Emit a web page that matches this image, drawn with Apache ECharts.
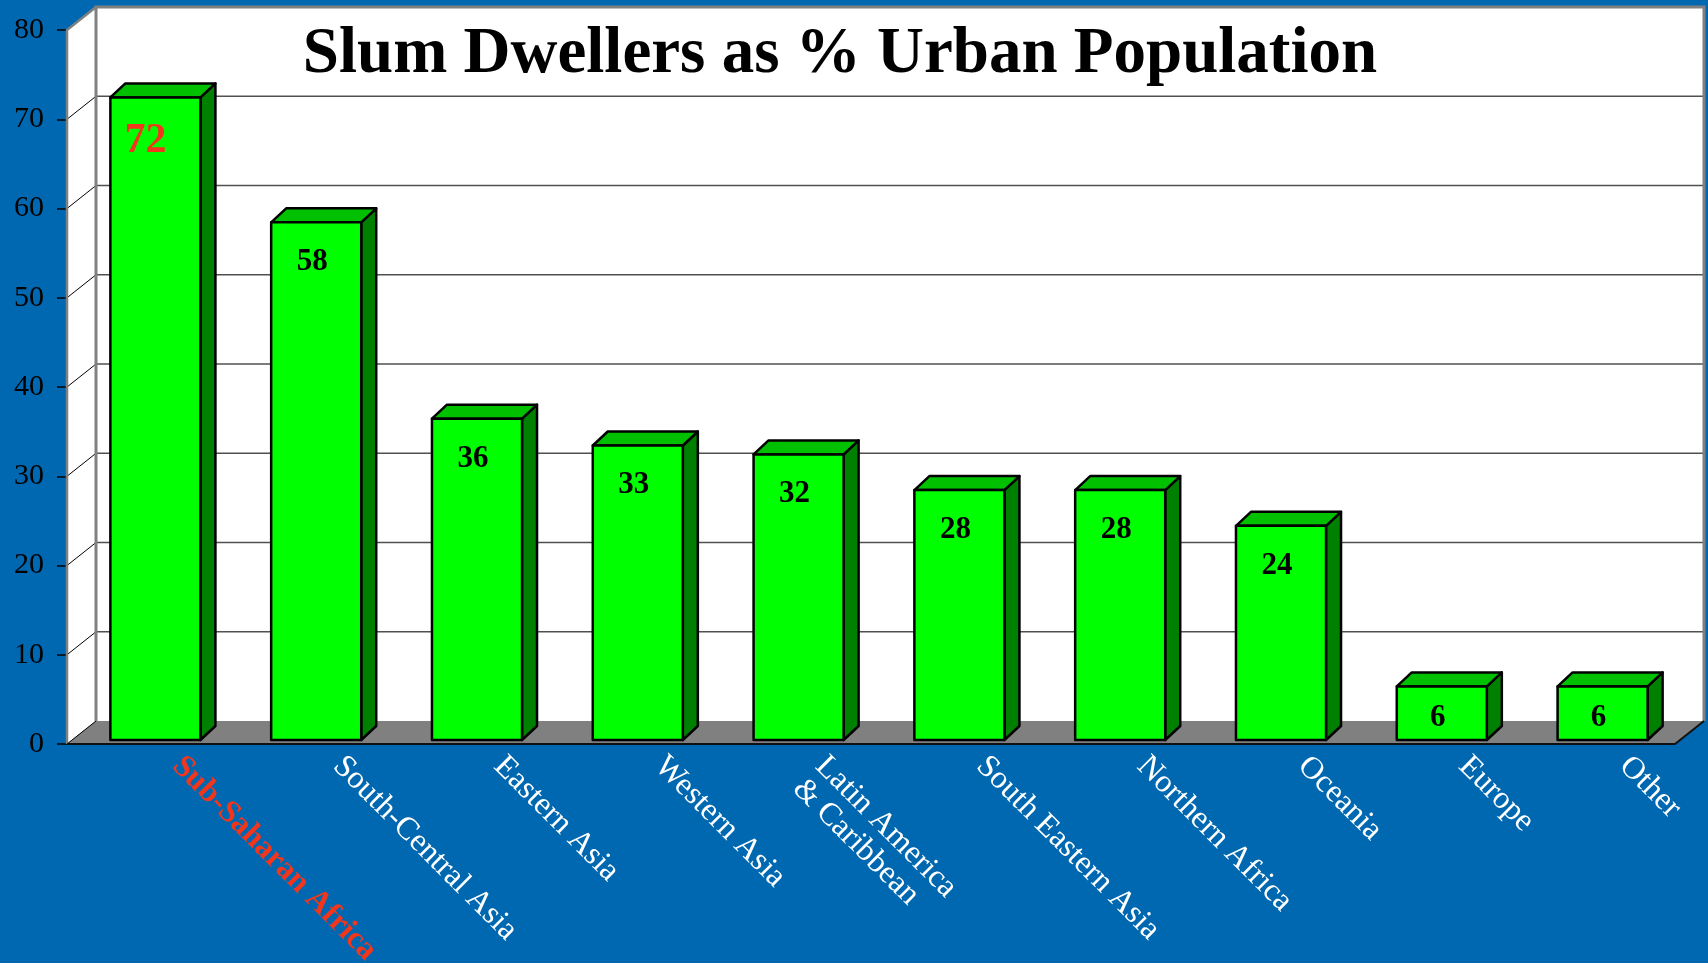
<!DOCTYPE html>
<html><head><meta charset="utf-8">
<script src="https://cdn.jsdelivr.net/npm/echarts@6/dist/echarts.min.js"></script>
<style>html,body{margin:0;padding:0;background:#0068b1;overflow:hidden}#c{width:1708px;height:963px}</style>
</head><body><div id="c"></div>
<script>
// ---- data ----
const categories = ['Sub-Saharan Africa', 'South-Central Asia', 'Eastern Asia', 'Western Asia',
  'Latin America\n& Caribbean', 'South Eastern Asia', 'Northern Africa', 'Oceania', 'Europe', 'Other'];
const values = [72, 58, 36, 33, 32, 28, 28, 24, 6, 6];
const yTicks = [0, 10, 20, 30, 40, 50, 60, 70, 80];
const titleText = 'Slum Dwellers as % Urban Population';

// ---- style constants (pixels) ----
const FDX = 29, FDY = -23;      // floor / wall depth
const BOX = 8, BOY = -4;        // bar front plane offset
const BDX = 15, BDY = -14;      // bar depth
const SERIF = "'Liberation Serif', 'Times New Roman', serif";
const RED = '#f2361c';

function renderFrame(params, api) {
  const cs = params.coordSys;
  const gx = cs.x, gy = cs.y, gw = cs.width, gh = cs.height;
  const yb = gy + gh;
  const ch = [];
  ch.push({type: 'polygon', shape: {points: [[gx, gy], [gx + FDX, gy + FDY], [gx + FDX, yb + FDY], [gx, yb]]}, style: {fill: '#fff'}});
  ch.push({type: 'rect', shape: {x: gx + FDX, y: gy + FDY, width: gw, height: gh}, style: {fill: '#fff'}});
  ch.push({type: 'polygon', shape: {points: [[gx, yb], [gx + FDX, yb + FDY], [gx + gw + FDX, yb + FDY], [gx + gw, yb]]}, style: {fill: '#808080'}});
  yTicks.forEach(v => {
    const y = api.coord([0, v])[1];
    if (v !== 0 && v !== yTicks[yTicks.length - 1]) {
      ch.push({type: 'line', shape: {x1: gx + FDX, y1: y + FDY, x2: gx + gw + FDX, y2: y + FDY}, style: {stroke: '#505050', lineWidth: 1.3}});
    }
    if (v !== yTicks[yTicks.length - 1]) {
      ch.push({type: 'line', shape: {x1: gx, y1: y, x2: gx + FDX, y2: y + FDY}, style: {stroke: '#000', lineWidth: 1}});
    }
  });
  const g = {stroke: '#808080', lineWidth: 3, fill: null};
  ch.push({type: 'polyline', shape: {points: [[gx + FDX, yb + FDY], [gx + FDX, gy + FDY], [gx + gw + FDX, gy + FDY], [gx + gw + FDX, yb + FDY]]}, style: g});
  ch.push({type: 'polyline', shape: {points: [[gx + FDX, gy + FDY], [gx, gy], [gx, yb]]}, style: {stroke: '#808080', lineWidth: 2.5, fill: null}});
  ch.push({type: 'polyline', shape: {points: [[gx, yb], [gx + gw, yb], [gx + gw + FDX, yb + FDY]]}, style: {stroke: '#111', lineWidth: 2, fill: null}});
  return {type: 'group', children: ch};
}

function renderBar(params, api) {
  const idx = api.value(0), v = api.value(1);
  const top = api.coord([idx, v]), base = api.coord([idx, 0]);
  const w = api.size([1, 0])[0] * 0.56;
  const xl = top[0] + BOX - w / 2, xr = xl + w;
  const yt = top[1] + BOY, yb = base[1] + BOY;
  const st = {stroke: '#000', lineWidth: 2.5, lineJoin: 'round'};
  const first = params.dataIndex === 0;
  const h = yb - yt;
  return {
    type: 'group',
    children: [
      {type: 'polygon', shape: {points: [[xr, yt], [xr + BDX, yt + BDY], [xr + BDX, yb + BDY], [xr, yb]]}, style: Object.assign({fill: '#008000'}, st)},
      {type: 'polygon', shape: {points: [[xl, yt], [xl + BDX, yt + BDY], [xr + BDX, yt + BDY], [xr, yt]]}, style: Object.assign({fill: '#00c000'}, st)},
      {type: 'rect', shape: {x: xl, y: yt, width: w, height: h}, style: Object.assign({fill: '#00ff00'}, st)},
      {type: 'text', style: {
        x: (xl + xr) / 2 + (first ? -10 : -4), y: yt + (first ? 44 : Math.min(40, h * 0.58)),
        text: String(v), align: 'center', verticalAlign: 'middle',
        fill: first ? RED : '#000', font: 'bold ' + (first ? 42 : 31) + 'px ' + SERIF
      }}
    ]
  };
}

const chart = echarts.init(document.getElementById('c'), null, {renderer: 'canvas'});
chart.setOption({
  backgroundColor: '#0068b1',
  animation: false,
  title: {
    text: titleText, left: 835, top: 18, textAlign: 'center',
    textStyle: {fontFamily: SERIF, fontSize: 65, fontWeight: 'bold', color: '#000'}
  },
  grid: {left: 67, right: 33, top: 30, bottom: 219, containLabel: false, outerBoundsMode: 'none'},
  xAxis: {
    type: 'category', data: categories, boundaryGap: true,
    axisLine: {show: false}, axisTick: {show: false}, splitLine: {show: false},
    axisLabel: {
      interval: 0, rotate: -45, color: '#fff', fontFamily: SERIF, fontSize: 32,
      align: 'left', verticalAlign: 'top', padding: [0, 0, 0, 58], margin: -35,
      formatter: (v, i) => i === 0 ? '{hl|' + v + '}' : v,
      rich: {hl: {color: RED, fontWeight: 'bold', fontFamily: SERIF, fontSize: 32}}
    }
  },
  yAxis: {
    type: 'value', min: 0, max: 80, interval: 10,
    axisLine: {show: false},
    axisTick: {show: true, length: 10, lineStyle: {color: '#000', width: 1.5}},
    splitLine: {show: false},
    axisLabel: {color: '#000', fontFamily: SERIF, fontSize: 30, margin: 23}
  },
  series: [
    {type: 'custom', name: 'frame', z: 1, silent: true, clip: false, renderItem: renderFrame, data: [[0, 0]]},
    {type: 'custom', name: 'Slum dwellers %', z: 3, clip: false, renderItem: renderBar,
      encode: {x: 0, y: 1}, data: values.map((v, i) => [i, v])}
  ]
});
</script></body></html>
